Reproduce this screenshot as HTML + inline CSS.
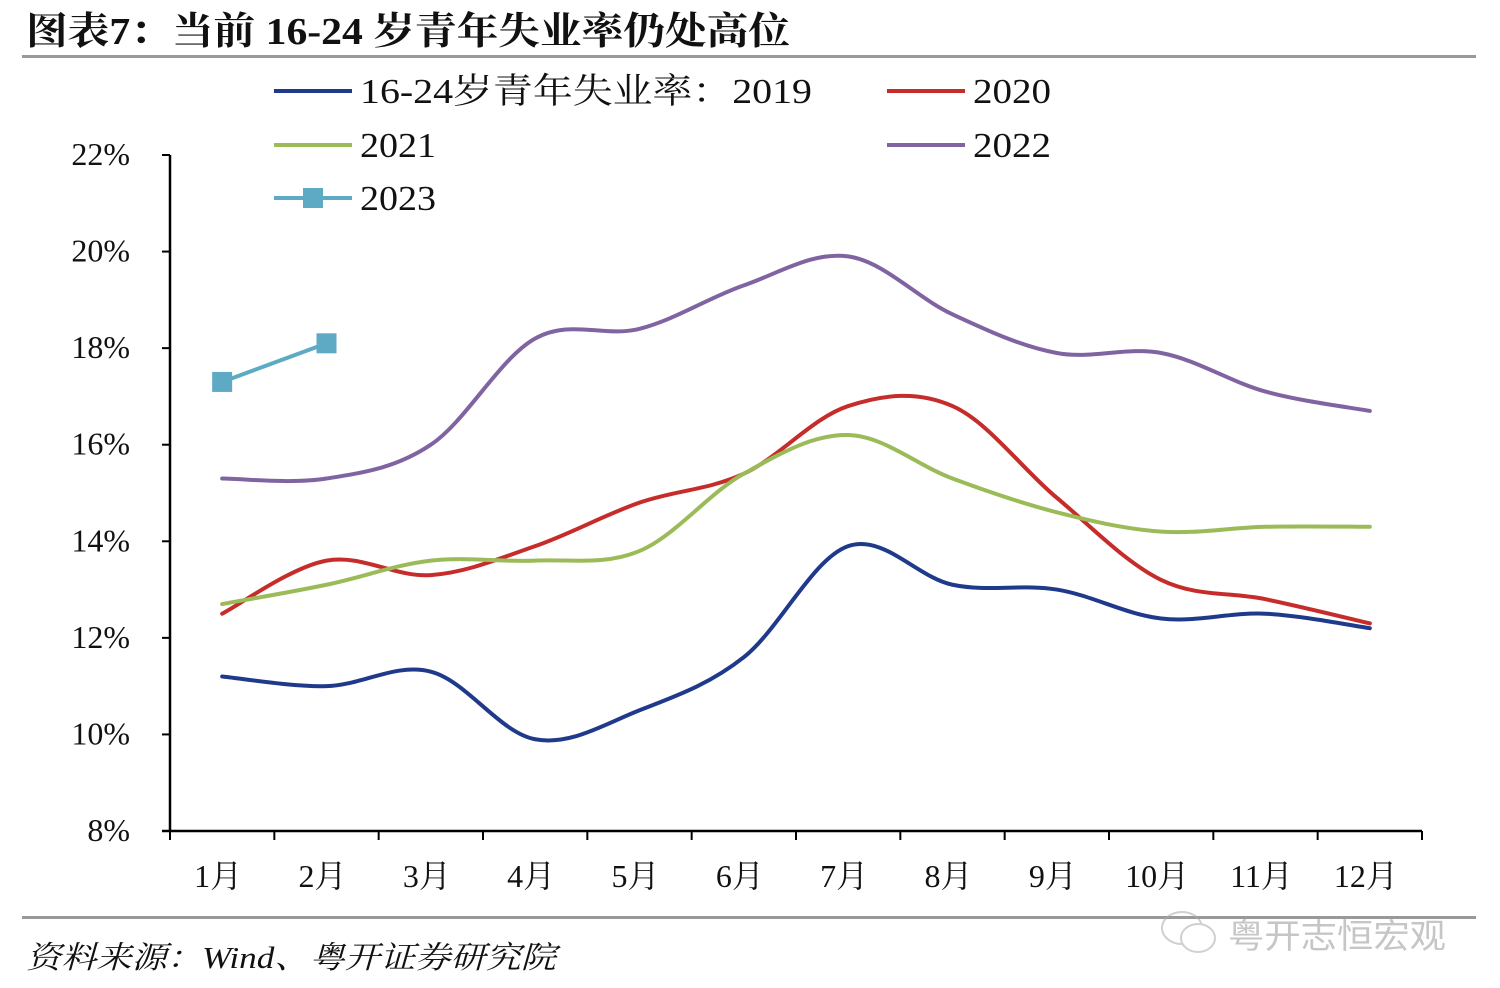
<!DOCTYPE html>
<html><head><meta charset="utf-8"><style>
body{margin:0;background:#fff;}
svg{display:block;}
</style></head><body>
<svg id="chart" width="1500" height="988" xmlns="http://www.w3.org/2000/svg">
<text x="26" y="44" textLength="764" lengthAdjust="spacingAndGlyphs" font-family="'Liberation Serif','Noto Serif CJK SC',serif" font-weight="bold" font-size="38" fill="#111">图表7：当前 16-24 岁青年失业率仍处高位</text>
<rect x="22" y="55" width="1454" height="3" fill="#999"/>
<rect x="22" y="916" width="1454" height="3" fill="#999"/>
<text x="26" y="968" textLength="530" lengthAdjust="spacingAndGlyphs" font-family="'Liberation Serif','Noto Serif CJK SC',serif" font-style="italic" font-size="31" fill="#111">资料来源：Wind、粤开证券研究院</text>
<g opacity="0.55">
<ellipse cx="1182" cy="928" rx="20" ry="16" fill="none" stroke="#aaa" stroke-width="2"/>
<ellipse cx="1198" cy="938" rx="17" ry="14" fill="#fff" stroke="#aaa" stroke-width="2"/>
<text x="1228" y="948" textLength="218" lengthAdjust="spacingAndGlyphs" font-family="'Noto Sans CJK SC',sans-serif" font-size="34" fill="#999">粤开志恒宏观</text>
</g>
<g id="axes"></g>
<g id="series"></g>
<g id="legend"></g>
</svg>
<script>
const categories=['1月','2月','3月','4月','5月','6月','7月','8月','9月','10月','11月','12月'];
const yTicks=[8,10,12,14,16,18,20,22];
const s2019=[11.2,11.0,11.3,9.9,10.5,11.6,13.9,13.1,13.0,12.4,12.5,12.2];
const s2020=[12.5,13.6,13.3,13.9,14.8,15.4,16.8,16.8,14.9,13.2,12.8,12.3];
const s2021=[12.7,13.1,13.6,13.6,13.8,15.4,16.2,15.3,14.6,14.2,14.3,14.3];
const s2022=[15.3,15.3,16.0,18.2,18.4,19.3,19.9,18.7,17.9,17.9,17.1,16.7];
const s2023=[17.3,18.1];
const seriesNames=['16-24岁青年失业率：2019','2020','2021','2022','2023'];

const NS='http://www.w3.org/2000/svg';
const X0=170,X1=1422,Y0=831,Y1=155,YMIN=8,YMAX=22;
const bw=(X1-X0)/categories.length;
function xs(i){return X0+(i+0.5)*bw;}
function ys(v){return Y0-(v-YMIN)/(YMAX-YMIN)*(Y0-Y1);}
function mk(tag,attrs,parent){const e=document.createElementNS(NS,tag);for(const k in attrs)e.setAttribute(k,attrs[k]);parent.appendChild(e);return e;}
const axes=document.getElementById('axes');
const serif="'Liberation Serif','Noto Serif CJK SC',serif";
let e=mk('line',{x1:X0,y1:Y1,x2:X0,y2:Y0,stroke:'#000','stroke-width':2.5},axes);


e=mk('line',{x1:X0-8,y1:Y0,x2:X1,y2:Y0,stroke:'#000','stroke-width':2.5},axes);


yTicks.forEach(v=>{
  mk('line',{x1:X0-8,y1:ys(v),x2:X0,y2:ys(v),stroke:'#000','stroke-width':2},axes);
  const t=mk('text',{x:130,y:ys(v)+10,'text-anchor':'end','font-family':serif,'font-size':32,fill:'#111'},axes);
  t.textContent=v+'%';
  
  
});
for(let i=0;i<=categories.length;i++){
  mk('line',{x1:X0+i*bw,y1:Y0,x2:X0+i*bw,y2:Y0+9,stroke:'#000','stroke-width':2},axes);
}
categories.forEach((c,i)=>{
  const t=mk('text',{x:xs(i)-4,y:887,'text-anchor':'middle','font-family':serif,'font-size':32,fill:'#111'},axes);
  t.textContent=c;
  
  
});
function smooth(vals){
  const p=vals.map((v,i)=>[xs(i),ys(v)]);
  let d='M'+p[0][0]+','+p[0][1];
  for(let i=0;i<p.length-1;i++){
    const a=p[i-1]||p[i],b=p[i],c=p[i+1],dd=p[i+2]||c;
    const t=0.17;
    d+=' C'+(b[0]+(c[0]-a[0])*t)+','+(b[1]+(c[1]-a[1])*t)+' '+(c[0]-(dd[0]-b[0])*t)+','+(c[1]-(dd[1]-b[1])*t)+' '+c[0]+','+c[1];
  }
  return d;
}
const sg=document.getElementById('series');
const defs=[[s2019,'#1f3a8a','line-2019'],[s2020,'#c62d2a','line-2020'],[s2021,'#9bbb59','line-2021'],[s2022,'#8064a2','line-2022']];
defs.forEach(([vals,col,name])=>{
  const p=mk('path',{d:smooth(vals),fill:'none',stroke:col,'stroke-width':4,'stroke-linecap':'round'},sg);
  
  
});
const p23=mk('path',{d:s2023.map((v,i)=>(i?'L':'M')+xs(i)+','+ys(v)).join(' '),fill:'none',stroke:'#5eaac4','stroke-width':4},sg);


s2023.forEach((v,i)=>{
  const r=mk('rect',{x:xs(i)-10,y:ys(v)-10,width:20,height:20,fill:'#5eaac4'},sg);
  
  
});
const lg=document.getElementById('legend');
const lpos=[[274,91],[887,91],[274,145],[887,145],[274,198]];
const lcol=['#1f3a8a','#c62d2a','#9bbb59','#8064a2','#5eaac4'];
const lwid=[452,78,76,78,76];
seriesNames.forEach((n,i)=>{
  const [x,y]=lpos[i];
  const g=mk('g',{},lg);
  
  
  mk('line',{x1:x,y1:y,x2:x+78,y2:y,stroke:lcol[i],'stroke-width':4},g);
  if(i===4)mk('rect',{x:x+29,y:y-10,width:20,height:20,fill:lcol[i]},g);
  const t=mk('text',{x:x+86,y:y+12,textLength:lwid[i],lengthAdjust:'spacingAndGlyphs','font-family':serif,'font-size':35,fill:'#111'},g);
  t.textContent=n;
});
</script>
</body></html>
